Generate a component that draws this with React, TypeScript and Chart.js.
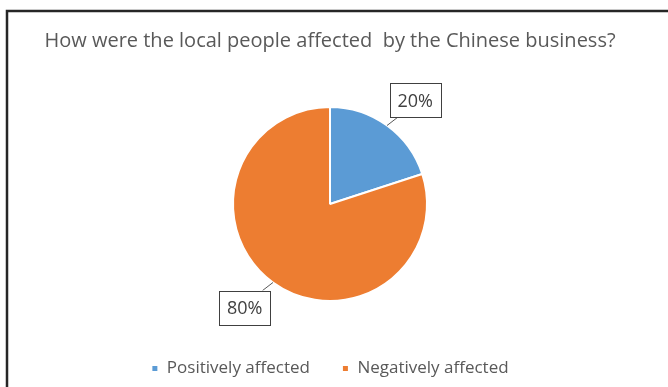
import React, { useEffect, useRef } from 'react';
import { Chart, registerables } from 'chart.js';

Chart.register(...registerables);

const chartTitle = 'How were the local people affected  by the Chinese business?';
const categories = ['Positively affected', 'Negatively affected'];
const values = [20, 80];
const valueLabels = ['20%', '80%'];
const colors = ['#5B9BD5', '#ED7D31'];

const FONT = '"Open Sans", "DejaVu Sans", sans-serif';

const framePlugin = {
  id: 'frame',
  beforeDraw(chart: any) {
    const ctx = chart.ctx;
    ctx.save();
    ctx.fillStyle = '#ffffff';
    ctx.fillRect(0, 0, chart.width, chart.height);
    ctx.strokeStyle = '#262626';
    ctx.lineWidth = 2.5;
    ctx.beginPath();
    ctx.moveTo(7, chart.height + 5);
    ctx.lineTo(7, 11);
    ctx.lineTo(chart.width + 5, 11);
    ctx.stroke();
    ctx.restore();
  },
};

const labelPlugin = {
  id: 'boxLabels',
  afterDatasetsDraw(chart: any) {
    const ctx = chart.ctx;
    const meta = chart.getDatasetMeta(0);
    ctx.save();
    meta.data.forEach((arc: any, i: number) => {
      const p = arc.getProps(['x', 'y', 'startAngle', 'endAngle', 'outerRadius'], true);
      const mid = (p.startAngle + p.endAngle) / 2;
      const c = Math.cos(mid);
      const s = Math.sin(mid);
      const ex = p.x + c * p.outerRadius;
      const ey = p.y + s * p.outerRadius;
      const lx = p.x + c * p.outerRadius * 1.32 + Math.sign(c) * 10;
      const ly = p.y + s * p.outerRadius * 1.32;
      ctx.font = '18px ' + FONT;
      const text = valueLabels[i];
      const tw = ctx.measureText(text).width;
      const bw = tw + 16;
      const bh = 34;
      const bx = lx - bw / 2;
      const by = ly - bh / 2;
      const cx = c > 0 ? bx + 8 : bx + bw - 8;
      const cy = s < 0 ? by + bh : by;
      ctx.strokeStyle = '#595959';
      ctx.lineWidth = 1;
      ctx.beginPath();
      ctx.moveTo(ex, ey);
      ctx.lineTo(cx, cy);
      ctx.stroke();
      ctx.fillStyle = '#ffffff';
      ctx.fillRect(bx, by, bw, bh);
      ctx.strokeStyle = '#404040';
      ctx.strokeRect(Math.round(bx) + 0.5, Math.round(by) + 0.5, Math.round(bw), Math.round(bh));
      ctx.fillStyle = '#404040';
      ctx.textAlign = 'center';
      ctx.textBaseline = 'middle';
      ctx.fillText(text, lx, ly + 1);
    });
    ctx.restore();
  },
};

export default function App() {
  const ref = useRef<HTMLCanvasElement>(null);
  useEffect(() => {
    if (!ref.current) return;
    const chart = new Chart(ref.current, {
      type: 'pie',
      data: {
        labels: categories,
        datasets: [
          {
            data: values,
            backgroundColor: colors,
            borderColor: '#ffffff',
            borderWidth: 2,
            radius: 97,
          },
        ],
      },
      options: {
        responsive: false,
        animation: false,
        devicePixelRatio: 1,
        layout: { padding: { left: 0, right: 8, top: 0, bottom: 0 } },
        plugins: {
          title: {
            display: true,
            text: chartTitle,
            color: '#595959',
            font: { family: FONT, size: 20, weight: 'normal' },
            padding: { top: 29, bottom: 27 },
          },
          legend: {
            display: true,
            position: 'bottom',
            labels: {
              color: '#595959',
              font: { family: FONT, size: 17 },
              boxWidth: 7,
              boxHeight: 7,
              padding: 32,
            },
          },
          tooltip: { enabled: false },
        },
      },
      plugins: [framePlugin, labelPlugin],
    });
    return () => chart.destroy();
  }, []);
  return (
    <div style={{ position: 'fixed', left: 0, top: 0, width: 668, height: 387 }}>
      <canvas ref={ref} width={668} height={387} style={{ display: 'block' }} />
    </div>
  );
}
